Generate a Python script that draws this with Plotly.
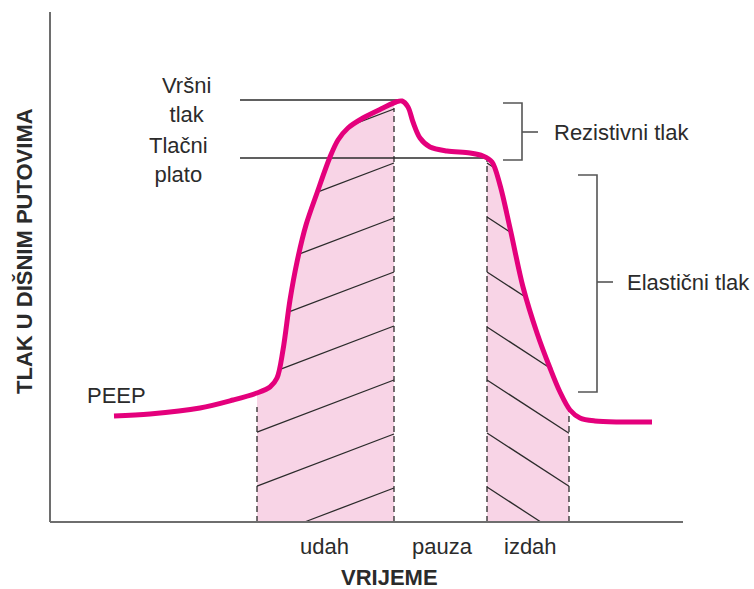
import numpy as np
import plotly.graph_objects as go

# ---- data (time units, pressure units; origin at axes corner) ----
curve_t = [64, 100, 150, 183, 207, 220, 227, 233, 240, 247, 256, 267, 280, 288, 298, 313, 333,
           346, 352, 358, 363, 370, 380, 397, 420, 433, 442, 450, 460, 473, 487, 500, 510,
           520, 530, 545, 570, 602]
curve_p = [106, 108, 114, 122, 129, 135, 144, 172, 222, 260, 297, 329, 365, 382, 394, 404, 414,
           420, 421, 415, 400, 384, 375, 371, 369, 366, 360, 337, 294, 235, 189, 154, 130,
           112, 104, 101, 100, 100]

phase_bounds = {"udah": (207, 344), "izdah": (437, 519)}
dash_tops = [115, 414, 362, 112]        # heights of the dashed phase boundaries
udah_hatch_end_p = [413, 359, 304, 250, 196, 142, 88, 34]     # at right edge of udah
izdah_hatch_start_p = [359, 305, 250, 195, 142, 89, 35]        # at left edge of izdah
udah_slope = 0.38
izdah_slope = -0.65

peak_p = 422
plateau_p = 364

phase_labels = ["udah", "pauza", "izdah"]
phase_label_t = [274, 392, 480]

MAG = "#e4007c"
PINK = "#f8d4e6"
DARK = "#2b2b2b"
GREY = "#555555"
SMOOTH = 0.9

ct = np.array(curve_t, float)
cp = np.array(curve_p, float)

fig = go.Figure()

# ---- pink filled phases ----
for name, (a, b) in phase_bounds.items():
    inner = [(t, p) for t, p in zip(curve_t, curve_p) if a < t < b]
    xs = [a] + [t for t, _ in inner] + [b]
    ys = [float(np.interp(a, ct, cp))] + [p for _, p in inner] + [float(np.interp(b, ct, cp))]
    fig.add_trace(go.Scatter(x=xs, y=ys, mode="lines",
                             line=dict(width=0, shape="spline", smoothing=SMOOTH),
                             fill="tozeroy", fillcolor=PINK, hoverinfo="skip",
                             showlegend=False))

# ---- hatch lines ----
def hatch(t0, p0, slope, a, b):
    ts = np.linspace(a, b, 2000)
    lp = p0 + slope * (ts - t0)
    cv = np.interp(ts, ct, cp)
    ok = (lp <= cv) & (lp >= 0)
    if not ok.any():
        return None
    sel = ts[ok]
    return [sel.min(), sel.max()], [p0 + slope * (sel.min() - t0), p0 + slope * (sel.max() - t0)]

hx, hy = [], []
a, b = phase_bounds["udah"]
for pe in udah_hatch_end_p:
    r = hatch(b, pe, udah_slope, a, b)
    if r:
        hx += r[0] + [None]
        hy += r[1] + [None]
a, b = phase_bounds["izdah"]
for ps in izdah_hatch_start_p:
    r = hatch(a, ps, izdah_slope, a, b)
    if r:
        hx += r[0] + [None]
        hy += r[1] + [None]
fig.add_trace(go.Scatter(x=hx, y=hy, mode="lines", line=dict(color=DARK, width=1.3),
                         hoverinfo="skip", showlegend=False))

# ---- dashed phase boundaries ----
bounds = [phase_bounds["udah"][0], phase_bounds["udah"][1],
          phase_bounds["izdah"][0], phase_bounds["izdah"][1]]
dx, dy = [], []
for t, top in zip(bounds, dash_tops):
    dx += [t, t, None]
    dy += [0, top, None]
fig.add_trace(go.Scatter(x=dx, y=dy, mode="lines",
                         line=dict(color=DARK, width=1.3, dash="6px,4px"),
                         hoverinfo="skip", showlegend=False))

# ---- reference lines (peak, plateau) ----
fig.add_trace(go.Scatter(x=[190, 350, None, 190, 440], y=[peak_p, peak_p, None, plateau_p, plateau_p],
                         mode="lines", line=dict(color=DARK, width=1.3),
                         hoverinfo="skip", showlegend=False))

# ---- brackets ----
bx = [453, 472, 472, 453, None, 472, 488, None,
      528, 547, 547, 528, None, 547, 563]
by = [419, 419, 362, 362, None, 390, 390, None,
      347, 347, 130, 130, None, 240, 240]
fig.add_trace(go.Scatter(x=bx, y=by, mode="lines", line=dict(color=GREY, width=1.6),
                         hoverinfo="skip", showlegend=False))

# ---- axes lines ----
fig.add_trace(go.Scatter(x=[0, 0, None, 0, 633], y=[510, 0, None, 0, 0], mode="lines",
                         line=dict(color="#6e6e6e", width=2), hoverinfo="skip", showlegend=False))

# ---- pressure curve ----
fig.add_trace(go.Scatter(x=curve_t, y=curve_p, mode="lines",
                         line=dict(color=MAG, width=5, shape="spline", smoothing=SMOOTH),
                         hoverinfo="skip", showlegend=False))

F = "Arial, Liberation Sans, Helvetica, sans-serif"
def ann(text, x, y, size=22, bold=False, xanchor="center", angle=0, align="center"):
    fig.add_annotation(x=x, y=y, text=f"<b>{text}</b>" if bold else text, showarrow=False,
                       xanchor=xanchor, yanchor="middle", textangle=angle, align=align,
                       font=dict(family=F, size=size, color=DARK))

ann("Vršni<br>tlak", 136, 422.5)
ann("Tlačni<br>plato", 128, 362.5)
ann("PEEP", 66, 127)
ann("Rezistivni tlak", 502, 390, xanchor="left")
ann("Elastični tlak", 575, 240, xanchor="left")
for lab, t in zip(phase_labels, phase_label_t):
    ann(lab, t, -24)
ann("VRIJEME", 339, -55, size=22, bold=True)
ann("TLAK U DIŠNIM PUTOVIMA", -26, 271, size=22, bold=True, angle=-90)

fig.update_layout(width=754, height=589, autosize=False,
                  margin=dict(l=0, r=0, t=0, b=0),
                  paper_bgcolor="white", plot_bgcolor="white",
                  xaxis=dict(range=[-50, 704], visible=False, fixedrange=True),
                  yaxis=dict(range=[-67, 522], visible=False, fixedrange=True),
                  showlegend=False)

fig.write_html("out.html", config={"displayModeBar": False, "staticPlot": True},
               post_script="document.body.style.margin='0';document.body.style.overflow='hidden';")
